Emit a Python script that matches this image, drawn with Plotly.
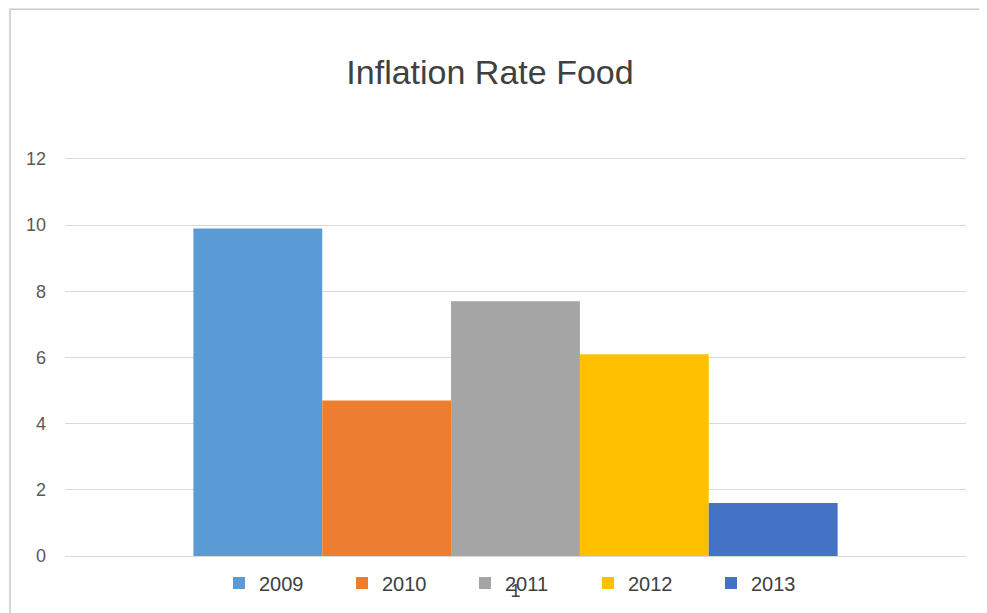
import plotly.graph_objects as go

categories = ["1"]
years = ["2009", "2010", "2011", "2012", "2013"]
values = [9.9, 4.7, 7.7, 6.1, 1.6]
colors = ["#5B9BD5", "#ED7D31", "#A5A5A5", "#FFC000", "#4472C4"]
y_ticks = [0, 2, 4, 6, 8, 10, 12]

# page body has an 8px margin; figure sized to fit the remaining viewport
W, H = 979, 605
L, R, T, B = 57, 21, 149, 56
pw, ph = W - L - R, H - T - B

fig = go.Figure()
for yr, v, c in zip(years, values, colors):
    fig.add_trace(go.Bar(x=categories, y=[v], name=yr, marker=dict(color=c, line=dict(width=0))))

fig.update_layout(
    width=W, height=H,
    margin=dict(l=L, r=R, t=T, b=B),
    paper_bgcolor="white", plot_bgcolor="white",
    barmode="group", bargap=0.285, bargroupgap=0,
    font=dict(family="Liberation Sans, Arial, sans-serif", color="#595959"),
    title=dict(text="Inflation Rate Food", x=(490 - 8) / W, xanchor="center",
               y=1 - (72 - 8) / H, yanchor="middle",
               font=dict(size=34, color="#404040")),
    showlegend=True,
    legend=dict(orientation="h", x=0.5 + 11 / pw, xanchor="center", y=(557 - 583) / ph, yanchor="middle",
                font=dict(size=20, color="#404040"), entrywidth=78, entrywidthmode="pixels",
                bgcolor="rgba(0,0,0,0)", traceorder="normal"),
    xaxis=dict(type="category", showgrid=False, showline=False, zeroline=False,
               ticks="", tickfont=dict(size=18, color="#404040"), ticklabelstandoff=22),
    yaxis=dict(range=[0, 12.06], tickvals=y_ticks, showgrid=True, gridcolor="#D9D9D9", gridwidth=1,
               zeroline=True, zerolinecolor="#D9D9D9", zerolinewidth=1, showline=False,
               ticks="", tickfont=dict(size=18, color="#595959"), ticklabelstandoff=18),
)

fig.add_shape(type="rect", xref="paper", yref="paper",
              x0=(2 - L) / pw, x1=(W + 20 - L) / pw,
              y0=-(H + 20 - (T + ph)) / ph, y1=(T + ph - 1) / ph,
              line=dict(color="#C8C8C8", width=1.5), fillcolor="rgba(0,0,0,0)", layer="below")

fig.write_html("out.html")
